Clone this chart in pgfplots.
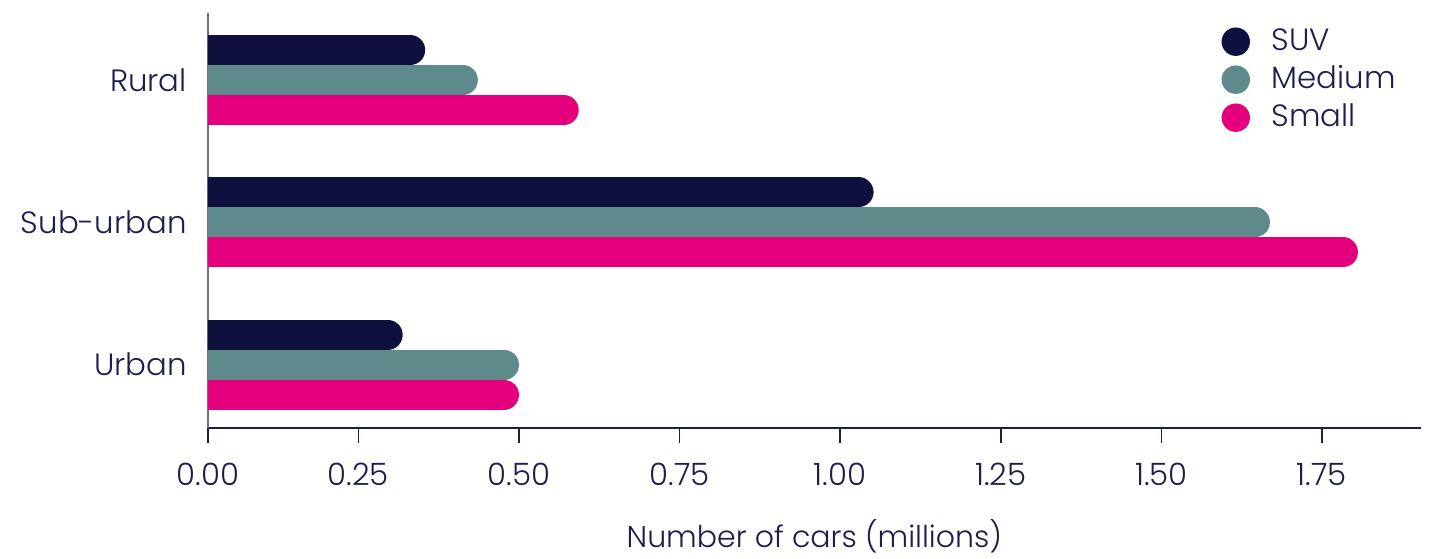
\documentclass[border=0pt]{standalone}
\usepackage{fontspec}
\setmainfont{Poppins Light}
\usepackage{pgfplots}
\pgfplotsset{compat=1.18}
\definecolor{suv}{HTML}{10103E}
\definecolor{med}{HTML}{5F8A8B}
\definecolor{small}{HTML}{E4007C}
\definecolor{txt}{HTML}{1E1E4E}
\definecolor{yax}{HTML}{6E6E90}
\begin{document}
\fontsize{15.4}{18}\selectfont
\begin{tikzpicture}
\useasboundingbox (-104pt,-65pt) rectangle (614pt,214pt);
\begin{axis}[
  at={(0,0)}, anchor=south west,
  scale only axis, width=606.35pt, height=207.35pt,
  xmin=0.0159, xmax=1.9037, ymin=-0.445, ymax=2.469,
  axis x line=bottom, axis y line=left,
  x axis line style={-, draw=txt, line width=0.75pt},
  y axis line style={-, draw=yax, line width=0.8pt},
  xtick={0.0159,0.25,0.5,0.75,1,1.25,1.5,1.75},
  xticklabels={0.00,0.25,0.50,0.75,1.00,1.25,1.50,1.75},
  ytick={0,1,2}, yticklabels={Urban,Sub-urban,Rural},
  tick align=outside, major tick length=7.5pt,
  xtick style={draw=txt, line width=0.75pt},
  ytick style={draw=none},
  tick label style={font=\fontsize{15.4}{18}\selectfont, text=txt, inner sep=0pt},
  xticklabel style={anchor=north, yshift=-10pt},
  yticklabel style={anchor=east, xshift=-3pt},
  xlabel={Number of cars (millions)},
  every axis x label/.style={at={(rel axis cs:0.5,0)}, anchor=north, yshift=-45.5pt},
  xlabel style={inner sep=0pt, text=txt, font=\fontsize{15}{18}\selectfont},
  legend style={at={(0.8358,0.9658)}, anchor=north west, draw=none, fill=none,
    inner sep=0pt, outer sep=0pt, row sep=4.8pt, column sep=10.85pt,
    font=\fontsize{15.4}{18}\selectfont, text=txt, nodes={inner sep=0pt}},
  legend cell align=left,
  legend image code/.code={\fill[#1, draw=none] (0pt,0pt) circle (7.1pt);},
]
\addplot[xcomb, mark=none, draw=suv, line width=15pt, line cap=round, yshift=15pt, xshift=-7.5pt, forget plot]
  coordinates {(0.354,2) (1.052,1) (0.319,0)};
\addplot[xcomb, mark=none, draw=med, line width=15pt, line cap=round, xshift=-7.5pt, forget plot]
  coordinates {(0.436,2) (1.669,1) (0.500,0)};
\addplot[xcomb, mark=none, draw=small, line width=15pt, line cap=round, yshift=-15pt, xshift=-7.5pt, forget plot]
  coordinates {(0.593,2) (1.806,1) (0.500,0)};
\addlegendimage{fill=suv}
\addlegendentry{SUV}
\addlegendimage{fill=med}
\addlegendentry{Medium}
\addlegendimage{fill=small}
\addlegendentry{Small}
\end{axis}
\end{tikzpicture}
\end{document}
